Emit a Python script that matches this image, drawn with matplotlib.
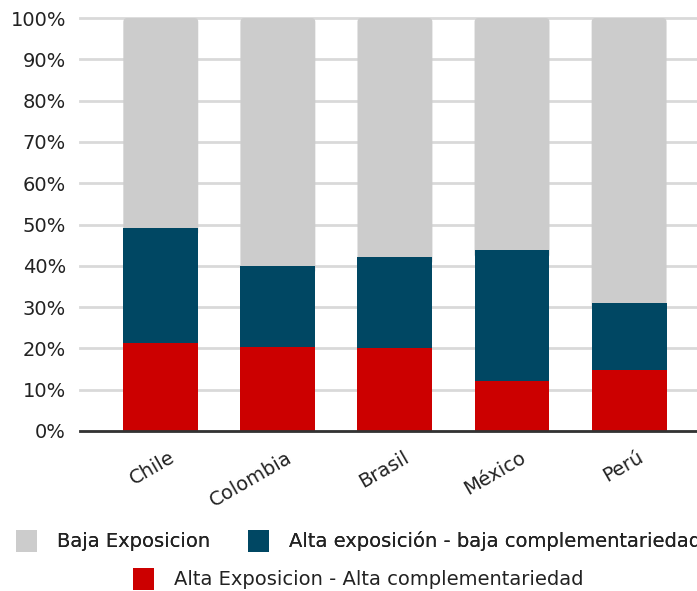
import numpy as np
import matplotlib.pyplot as plt
import matplotlib.transforms as mtransforms
from matplotlib.patches import FancyBboxPatch

countries = ["Chile", "Colombia", "Brasil", "México", "Perú"]
alta_alta = [21.2, 20.3, 20.2, 12.1, 14.8]
alta_baja = [28.0, 19.7, 22.0, 31.7, 16.1]
baja = [100 - a - b for a, b in zip(alta_alta, alta_baja)]

labels = ["Baja Exposicion",
          "Alta exposición - baja complementariedad",
          "Alta Exposicion - Alta complementariedad"]
colors = ["#cccccc", "#004763", "#cc0000"]

plt.rcParams['font.family'] = ['DejaVu Sans']

fig = plt.figure(figsize=(6.97, 5.91), dpi=100)
ax = fig.add_axes([80/697, 1 - 431/591, 1 - 80/697, 413/591])

x = np.arange(len(countries))
w = 0.64
aa = np.array(alta_alta) / 100
ab = np.array(alta_baja) / 100
bj = np.array(baja) / 100
xlim = (-0.69, 4.58)
ax.set_xlim(*xlim)
ax.set_ylim(0, 1)

b1 = ax.bar(x, aa, w, color=colors[2], linewidth=0, zorder=2)
b2 = ax.bar(x, ab, w, bottom=aa, color=colors[1], linewidth=0, zorder=2)
b3 = ax.bar(x, bj, w, bottom=aa + ab, color=colors[0], linewidth=0, zorder=2)

# grey segments redrawn with slightly rounded top corners
px_x = (xlim[1] - xlim[0]) / 617
px_y = 1 / 413
for r in b3.patches:
    x0, y0 = r.get_x(), r.get_y()
    ww, hh = r.get_width(), r.get_height()
    r.set_visible(False)
    # extend below the blue segment so the bottom corners are hidden
    ax.add_patch(FancyBboxPatch((x0, y0 - 0.02), ww, hh + 0.02,
                                boxstyle="round,pad=0,rounding_size=%f" % (4 * px_x),
                                mutation_aspect=px_y / px_x, linewidth=0,
                                facecolor=colors[0], edgecolor='none', zorder=1.9))

ticks = np.arange(0, 1.01, 0.1)
ax.set_yticks(ticks)
ax.set_yticklabels([f"{int(round(v*100))}%" for v in ticks],
                   fontsize=14, color="#222222")
ax.yaxis.grid(True, color="#d9d9d9", linewidth=2, zorder=0)
for gl in ax.get_ygridlines():
    gl.set_clip_on(False)
ax.tick_params(axis='y', length=0, pad=10)
ax.tick_params(axis='x', length=0, pad=12)
for s in ["top", "right", "left"]:
    ax.spines[s].set_visible(False)
ax.spines["bottom"].set_color("#333333")
ax.spines["bottom"].set_linewidth(2)
ax.spines["bottom"].set_zorder(3)

ax.set_xticks(x)
ax.set_xticklabels(countries, rotation=30, ha='right', rotation_mode='anchor',
                   fontsize=14, color="#222222")
offset = mtransforms.ScaledTranslation(8/100, 0, fig.dpi_scale_trans)
for lab in ax.get_xticklabels():
    lab.set_transform(lab.get_transform() + offset)

legkw = dict(frameon=False, fontsize=14, handlelength=1.08, handleheight=1.34,
             handletextpad=1.03, borderaxespad=0, borderpad=0, loc='center left')
leg1 = fig.legend([b3, b2], labels[:2], ncol=2, columnspacing=1.96,
                  bbox_to_anchor=(16/697, 1 - 541/591), **legkw)
leg2 = fig.legend([b1], labels[2:],
                  bbox_to_anchor=(133/697, 1 - 579/591), **legkw)
for h in leg1.legend_handles:
    h.set_visible(True)
for t in leg1.get_texts() + leg2.get_texts():
    t.set_color("#222222")
fig.add_artist(leg1)

fig.savefig("out.png", dpi=100)
